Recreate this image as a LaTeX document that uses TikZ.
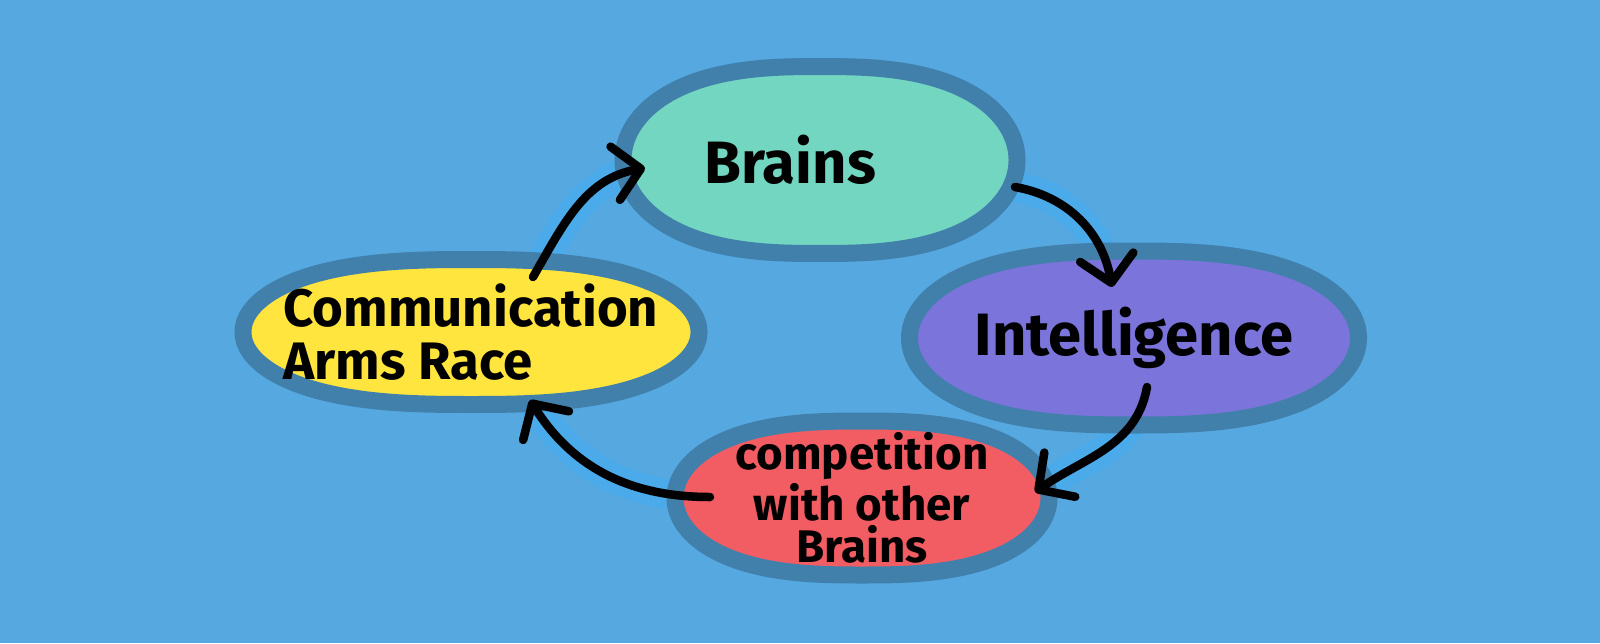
\documentclass[tikz,border=0pt]{standalone}
\usepackage{fontspec}
\setmainfont{Fira Sans}
\usepackage{tikz}
\usetikzlibrary{positioning, arrows.meta, calc, backgrounds, shapes.geometric}
\pgfdeclarelayer{base}
\pgfdeclarelayer{halo}
\pgfdeclarelayer{blobs}
\pgfsetlayers{base,halo,blobs,main}
\definecolor{bgblue}{RGB}{86,168,224}
\definecolor{rim}{RGB}{66,128,172}
\definecolor{glow}{RGB}{74,170,234}
\definecolor{brainfill}{RGB}{114,214,192}
\definecolor{intelfill}{RGB}{123,116,219}
\definecolor{compfill}{RGB}{242,93,99}
\definecolor{commfill}{RGB}{255,229,62}
\tikzset{
  blob/.style={draw=rim, line width=1.7mm, line join=round},
  flow/.style={->, line width=0.85mm, line cap=round},
  glowline/.style={draw=glow, line width=3mm, line cap=round},
}
% rounded blob round a node: node, rx, ry, fill
\newcommand{\blobat}[4]{%
  \filldraw[blob, fill=#4, shift={(#1)}]
    plot[domain=0.5:359.5, samples=360] ({#2*cos(\x)*abs(cos(\x))^(-0.25)}, {#3*sin(\x)}) -- cycle;}

\begin{document}
\begin{tikzpicture}[>={Straight Barb[length=2.6mm, width=5.4mm, round]}]
  \begin{pgfonlayer}{base}
    \fill[bgblue] (0,0) rectangle (16,6.43);
  \end{pgfonlayer}
  % the four stages
  \node[font=\bfseries\fontsize{17}{20}\selectfont] (brains) at (8.20,4.83) {Brains\hspace*{6mm}};
  \node[font=\bfseries\fontsize{17}{20}\selectfont] (intel) at (11.34,3.05) {Intelligence};
  \node[align=center, font=\bfseries\fontsize{13}{12}\selectfont] (comp) at (8.62,1.45) {competition\\with other\\Brains};
  \node[align=left, font=\bfseries\fontsize{15}{15}\selectfont] (comm) at (4.71,3.11) {Communication\\Arms Race};
  \begin{pgfonlayer}{blobs}
    \blobat{brains}{1.97}{0.935}{brainfill}
    \blobat{intel}{2.245}{0.87}{intelfill}
    \blobat{comp}{1.87}{0.77}{compfill}
    \blobat{comm}{2.28}{0.725}{commfill}
  \end{pgfonlayer}
  % arrow ends
  \coordinate (a1s) at ($(comm)+(0.62,0.55)$);
  \coordinate (a1e) at ($(brains)+(-1.75,-0.08)$);
  \coordinate (a2s) at ($(brains)+(1.95,-0.27)$);
  \coordinate (a2e) at ($(intel)+(-0.22,0.51)$);
  \coordinate (a3s) at ($(intel)+(0.13,-0.49)$);
  \coordinate (a3e) at ($(comp)+(1.73,0.06)$);
  \coordinate (a4s) at ($(comp)+(-1.52,0.01)$);
  \coordinate (a4e) at ($(comm)+(0.59,-0.68)$);
  \begin{pgfonlayer}{halo}
    \foreach \s/\e/\o/\i in {a1s/a1e/60/190, a2s/a2e/-10/100, a3s/a3e/-100/35, a4s/a4e/180/-58}
      \draw[glowline] (\s) to[out=\o, in=\i] (\e);
  \end{pgfonlayer}
  \foreach \s/\e/\o/\i in {a1s/a1e/60/190, a2s/a2e/-10/100, a3s/a3e/-100/35, a4s/a4e/180/-58}
    \draw[flow] (\s) to[out=\o, in=\i] (\e);
\end{tikzpicture}
\end{document}
